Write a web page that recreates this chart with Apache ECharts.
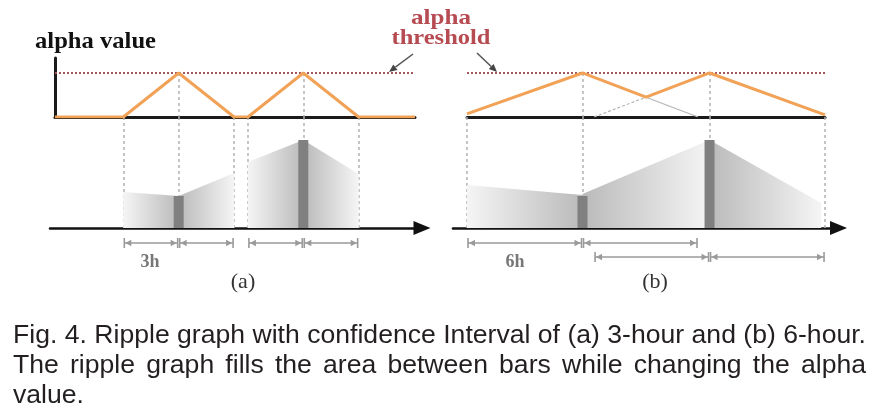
<!DOCTYPE html>
<html><head><meta charset="utf-8">
<script src="https://cdn.jsdelivr.net/npm/echarts@6/dist/echarts.min.js"></script>
<style>html,body{margin:0;padding:0;background:#fff}#c{width:886px;height:419px}</style>
</head><body><div id="c"></div>
<script>
// ---------------- data (time in hours, alpha 0..1, relative value) ----------------
const aEventHours = [6.7, 13.45];
const aBarValues = [32, 88];
const aWindowEdges = [3.7, 9.7, 10.45, 16.45];
const aAlphaLine = [[0,0],[3.7,0],[6.7,1],[9.7,0],[10.45,0],[13.45,1],[16.45,0],[19.5,0]];
const aRippleToBar1 = [[3.7,36],[6.7,32]];
const aRippleFromBar1 = [[6.7,32],[9.7,55]];
const aRippleToBar2 = [[10.45,66],[13.45,88]];
const aRippleFromBar2 = [[13.45,88],[16.45,54]];
const aIntervals = [[3.7,6.7,1],[6.7,9.7,1],[10.45,13.45,1],[13.45,16.45,1]];

const bEventHours = [6, 12.6];
const bBarValues = [32, 88];
const bWindowEdges = [0, 18.6];
const bAlphaLine = [[0,0.07],[6,1],[9.3,0.45],[12.6,1],[18.6,0.05]];
const bHiddenRise = [[6.6,0],[9.3,0.45]];
const bHiddenFall = [[9.3,0.45],[12,0]];
const bRippleToBar1 = [[0,43],[6,33]];
const bRippleFromBar1 = [[6,34],[12.6,88]];
const bRippleFromBar2 = [[12.6,88],[18.4,25]];
const bIntervals = [[0,6,1],[6,12,1],[6.6,12.6,2],[12.6,18.6,2]];

const thresholdAlpha = 1;
const intervalLabels = ['3h', '6h'];
const panelLabels = ['(a)', '(b)'];
const captionLines = [
  'Fig. 4. Ripple graph with confidence Interval of (a) 3-hour and (b) 6-hour.',
  'The ripple graph fills the area between bars while changing the alpha',
  'value.'
];

// ---------------- layout / style ----------------
const PA = {x0: 55, pph: 18.46}, PB = {x0: 467, pph: 19.25};
function span(P, tMin, tMax) { return {left: P.x0 + tMin * P.pph, width: (tMax - tMin) * P.pph}; }
const ORANGE = '#f1a257', RED = '#b64b52', DASH = '#b3b3b3', DIM = '#9a9a9a', BAR = '#808080';

const grids = [
  Object.assign(span(PA, 0, 19.5), {top: 58, height: 59}),
  Object.assign(span(PA, -0.27, 19.88), {top: 117, height: 111}),
  Object.assign(span(PA, 0, 19.5), {top: 229, height: 28}),
  Object.assign(span(PB, 0, 18.6), {top: 58, height: 59}),
  Object.assign(span(PB, -0.73, 19.3), {top: 117, height: 111}),
  Object.assign(span(PB, 0, 18.6), {top: 229, height: 28})
];
const xRanges = [[0,19.5],[-0.27,19.88],[0,19.5],[0,18.6],[-0.73,19.3],[0,18.6]];

const baseLine = {show: true, onZero: false, lineStyle: {color: '#1b1b1b', width: 3}};
const timeLine = {show: true, onZero: false, symbol: ['none', 'triangle'], symbolSize: [14, 17],
  lineStyle: {color: '#111', width: 2.5}};
const xLines = [baseLine, timeLine, {show: false}, baseLine, timeLine, {show: false}];

const xAxis = grids.map((g, i) => ({type: 'value', gridIndex: i, min: xRanges[i][0], max: xRanges[i][1],
  axisLabel: {show: false}, axisTick: {show: false}, splitLine: {show: false}, axisLine: xLines[i]}));
const yAxis = grids.map((g, i) => {
  const kind = i % 3;
  const o = {type: 'value', gridIndex: i, axisLabel: {show: false}, axisTick: {show: false}, splitLine: {show: false},
    axisLine: {show: false}};
  if (kind === 0) { o.min = 0; o.max = 1.34; }
  if (kind === 1) { o.min = 0; o.max = 111; }
  if (kind === 2) { o.min = 0; o.max = 2; o.inverse = true; }
  if (i === 0) o.axisLine = {show: true, onZero: false, lineStyle: {color: '#1b1b1b', width: 3}};
  return o;
});

function alphaSeries(data, grid, events) {
  return {type: 'line', xAxisIndex: grid, yAxisIndex: grid, data, symbol: 'none', silent: true, z: 5,
    lineStyle: {color: ORANGE, width: 3},
    markLine: {silent: true, z: 3, symbol: ['none', 'none'], label: {show: false}, animation: false,
      data: [
        {yAxis: thresholdAlpha, lineStyle: {color: '#a0585a', width: 2, type: [2, 2]}},
        ...events.map(t => [{coord: [t, thresholdAlpha], lineStyle: {color: DASH, width: 1.5, type: [3, 3]}}, {coord: [t, 0]}])
      ]}};
}
function thinLine(data, grid, type) {
  return {type: 'line', xAxisIndex: grid, yAxisIndex: grid, data, symbol: 'none', silent: true, z: 4,
    lineStyle: {color: '#b5b5b5', width: 1.2, type}};
}
function ripple(data, grid, toBar) {
  const near = '#bababa', far = '#f5f5f5';
  return {type: 'line', xAxisIndex: grid, yAxisIndex: grid, data, symbol: 'none', silent: true, z: 2,
    lineStyle: {width: 0, opacity: 0},
    areaStyle: {opacity: 1, color: new echarts.graphic.LinearGradient(0, 0, 1, 0,
      toBar ? [{offset: 0, color: far}, {offset: 1, color: near}] : [{offset: 0, color: near}, {offset: 1, color: far}])}};
}
function bars(hours, values, grid) {
  return {type: 'bar', xAxisIndex: grid, yAxisIndex: grid, data: hours.map((t, i) => [t, values[i]]),
    barWidth: 10, silent: true, z: 6, itemStyle: {color: BAR}};
}
function guides(lines, grid) {
  return {type: 'line', xAxisIndex: grid, yAxisIndex: grid, data: [], z: 1, silent: true,
    markLine: {silent: true, z: 1, symbol: ['none', 'none'], label: {show: false}, animation: false,
      lineStyle: {color: DASH, width: 1.5, type: [3, 3]}, data: lines.map(t => ({xAxis: t}))}};
}
function intervals(data, grid) {
  return {type: 'custom', xAxisIndex: grid, yAxisIndex: grid, data, silent: true, clip: false,
    encode: {x: [0, 1], y: 2},
    renderItem(params, api) {
      const a = api.coord([api.value(0), api.value(2)]);
      const b = api.coord([api.value(1), api.value(2)]);
      const y = a[1], c = DIM, ah = 6, aw = 3.2, tk = 5;
      const st = {stroke: c, lineWidth: 1.6};
      return {type: 'group', children: [
        {type: 'line', shape: {x1: a[0] + 1, y1: y, x2: b[0] - 1, y2: y}, style: st},
        {type: 'line', shape: {x1: a[0] + 1, y1: y - tk, x2: a[0] + 1, y2: y + tk}, style: st},
        {type: 'line', shape: {x1: b[0] - 1, y1: y - tk, x2: b[0] - 1, y2: y + tk}, style: st},
        {type: 'polygon', shape: {points: [[a[0] + 2, y], [a[0] + 2 + ah, y - aw], [a[0] + 2 + ah, y + aw]]}, style: {fill: c}},
        {type: 'polygon', shape: {points: [[b[0] - 2, y], [b[0] - 2 - ah, y - aw], [b[0] - 2 - ah, y + aw]]}, style: {fill: c}}
      ]};
    }};
}

const series = [
  alphaSeries(aAlphaLine, 0, aEventHours),
  guides(aWindowEdges.concat(aEventHours), 1),
  ripple(aRippleToBar1, 1, true), ripple(aRippleFromBar1, 1, false),
  ripple(aRippleToBar2, 1, true), ripple(aRippleFromBar2, 1, false),
  bars(aEventHours, aBarValues, 1),
  intervals(aIntervals, 2),
  alphaSeries(bAlphaLine, 3, bEventHours),
  thinLine(bHiddenRise, 3, [3, 2]), thinLine(bHiddenFall, 3, 'solid'),
  guides(bWindowEdges.concat(bEventHours), 4),
  ripple(bRippleToBar1, 4, true), ripple(bRippleFromBar1, 4, false), ripple(bRippleFromBar2, 4, false),
  bars(bEventHours, bBarValues, 4),
  intervals(bIntervals, 5)
];

// ---------------- text helpers ----------------
const mctx = document.createElement('canvas').getContext('2d');
function measure(text, font) { mctx.font = font; return mctx.measureText(text).width; }
function txt(text, x, y, font, fill, align, scaleX) {
  return {type: 'text', x, y, scaleX: scaleX || 1, silent: true,
    style: {text, font, fill, align, verticalAlign: 'middle', textAlign: align, textVerticalAlign: 'middle'}};
}
function fitTxt(text, x, y, font, fill, align, width) {
  return txt(text, x, y, font, fill, align, width / measure(text, font));
}
function pointer(x1, y1, x2, y2) {
  const dx = x2 - x1, dy = y2 - y1, L = Math.hypot(dx, dy), ux = dx / L, uy = dy / L;
  const hl = 8, hw = 3.5, bx = x2 - ux * hl, by = y2 - uy * hl;
  return [
    {type: 'line', silent: true, shape: {x1, y1, x2: bx, y2: by}, style: {stroke: '#555', lineWidth: 1.5}},
    {type: 'polygon', silent: true, shape: {points: [[x2, y2], [bx - uy * hw, by + ux * hw], [bx + uy * hw, by - ux * hw]]}, style: {fill: '#444'}}
  ];
}

const serifB = s => 'bold ' + s + 'px "Liberation Serif", "DejaVu Serif", serif';
const serif = s => s + 'px "Liberation Serif", "DejaVu Serif", serif';
const capFont = '26px "Liberation Sans", Arial, sans-serif';
const capLeft = 13, capRight = 866;
const capScale = (capRight - capLeft) / measure(captionLines[0], capFont);

const graphics = [
  fitTxt('alpha value', 35, 42, serifB(23), '#111', 'left', 121),
  fitTxt('alpha', 441, 18, serifB(22), RED, 'center', 60),
  fitTxt('threshold', 441, 38, serifB(22), RED, 'center', 99),
  ...pointer(413, 54, 389, 72),
  ...pointer(477, 53, 497, 72),
  txt(intervalLabels[0], 150, 262, serifB(18), '#777', 'center'),
  txt(intervalLabels[1], 515, 262, serifB(18), '#777', 'center'),
  txt(panelLabels[0], 243, 282, serif(22), '#333', 'center'),
  txt(panelLabels[1], 655, 282, serif(22), '#333', 'center'),
  txt(captionLines[0], capLeft, 335.5, capFont, '#231f20', 'left', capScale)
];
// justified second line
(function () {
  const words = captionLines[1].split(' ');
  const ws = words.map(w => measure(w, capFont) * capScale);
  const gap = (capRight - capLeft - ws.reduce((s, v) => s + v, 0)) / (words.length - 1);
  let x = capLeft;
  words.forEach((w, i) => { graphics.push(txt(w, x, 365.5, capFont, '#231f20', 'left', capScale)); x += ws[i] + gap; });
})();
graphics.push(txt(captionLines[2], capLeft, 395.5, capFont, '#231f20', 'left', capScale));

const chart = echarts.init(document.getElementById('c'), null, {renderer: 'canvas'});
chart.setOption({
  animation: false,
  backgroundColor: '#fff',
  grid: grids,
  xAxis, yAxis, series,
  graphic: {elements: graphics}
});
</script></body></html>
